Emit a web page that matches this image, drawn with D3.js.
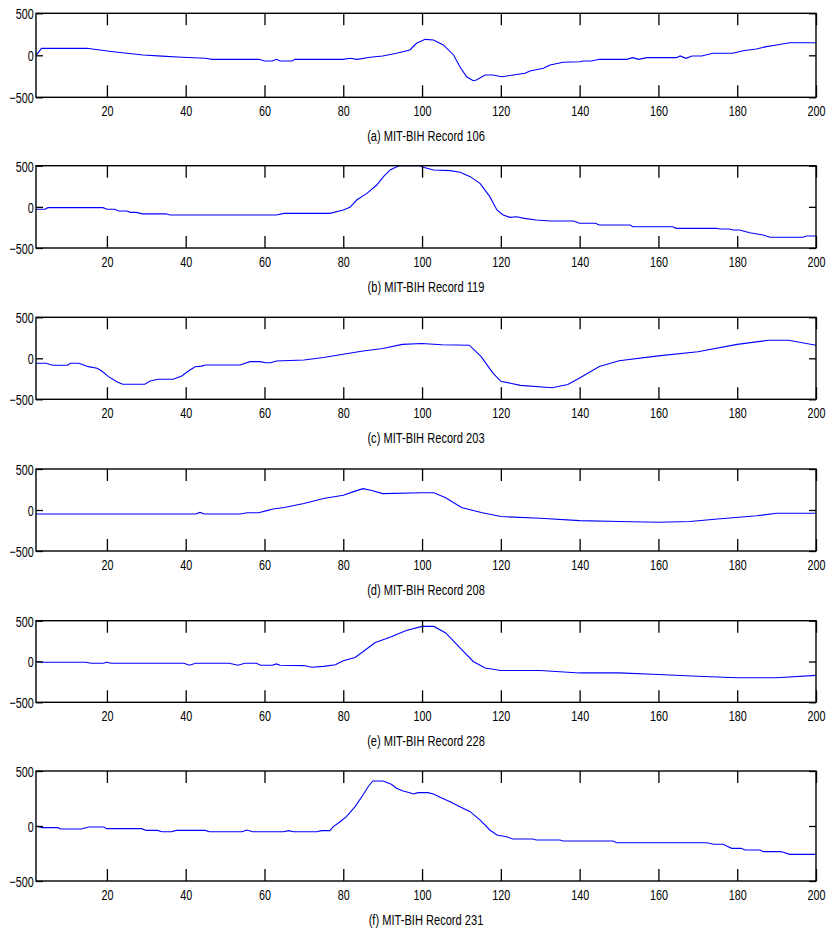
<!DOCTYPE html>
<html>
<head>
<meta charset="utf-8">
<script src="https://cdn.jsdelivr.net/npm/d3@7"></script>
<style>
  html, body { margin: 0; padding: 0; background: #fff; }
  svg { display: block; }
  text { font-family: "Liberation Sans", Arial, sans-serif; fill: #000; }
</style>
</head>
<body>
<svg id="chart" width="826" height="928"></svg>
<script>
// Sample index axis and amplitude axis shared by all six records
const xTicks = [20, 40, 60, 80, 100, 120, 140, 160, 180, 200];
const yTicks = [-500, 0, 500];

const titles = [
  "(a) MIT-BIH Record 106",
  "(b) MIT-BIH Record 119",
  "(c) MIT-BIH Record 203",
  "(d) MIT-BIH Record 208",
  "(e) MIT-BIH Record 228",
  "(f) MIT-BIH Record 231"
];

// Averaged beat waveforms: [sample index, amplitude]
const rec106 = [[2,0],[3.4,83],[14.9,83],[18.2,63],[21.6,43],[25,24],[29.2,4],[34,-10],[39,-24],[45,-36],[46.7,-48],[58.6,-48],[60,-68],[62,-68],[63,-48],[64,-68],[67,-68],[67.7,-48],[80,-48],[81.7,-36],[83.5,-48],[86.8,-24],[90,-8],[93.5,24],[96.9,63],[98.6,143],[100.8,190],[102.9,182],[105.4,123],[108,4],[109.6,-136],[111.3,-255],[113,-302],[113.8,-294],[116,-235],[118,-235],[120.2,-255],[123.2,-235],[126.1,-214],[127.4,-187],[130.8,-155],[132.5,-115],[135.8,-83],[140,-76],[141,-68],[143,-68],[145,-48],[151.9,-48],[153.5,-28],[155,-48],[157,-28],[164.6,-28],[165.5,-8],[167,-36],[168.5,-8],[171,-8],[173.8,24],[178.9,24],[181.5,55],[184.8,75],[187.4,103],[190,123],[193.3,150],[200,150]];

const rec119 = [[2,-30],[4.3,-30],[5,-10],[19,-10],[20,-30],[22,-30],[23,-51],[25,-51],[26,-67],[27.5,-67],[29,-85],[35,-85],[36,-99],[63,-99],[65,-79],[76.6,-79],[80,-38],[81.7,-6],[83.4,83],[86,164],[88.5,265],[90.2,367],[91.9,448],[93.6,488],[94.4,500],[99.5,500],[100.3,480],[102.9,448],[107.1,440],[109.7,420],[112.2,367],[114.7,286],[117.2,124],[119,-38],[120.6,-99],[122.3,-128],[124,-120],[126,-140],[129,-160],[132.5,-172],[138.4,-172],[140,-200],[144,-200],[145,-221],[152.8,-221],[153.5,-241],[163.6,-241],[164.6,-261],[174.7,-261],[175.6,-270],[178,-270],[178.9,-282],[180.6,-282],[183.2,-314],[186.6,-342],[188.3,-370],[196.7,-370],[197.6,-354],[200,-354]];

const rec203 = [[2,-61],[4.5,-61],[6.3,-85],[10,-85],[10.7,-61],[12.9,-61],[15.3,-102],[17.5,-122],[18.7,-155],[20.4,-224],[22.5,-285],[24,-317],[29.6,-317],[31,-277],[33,-256],[36.8,-256],[39,-216],[40.7,-155],[42.4,-102],[44,-95],[45,-82],[53.8,-82],[56.3,-41],[58.9,-41],[60.3,-54],[61.6,-54],[63,-33],[70,-20],[75,10],[80,50],[85,90],[90,120],[95,170],[100,180],[105,165],[112,160],[115,20],[118,-180],[120,-280],[125,-330],[133,-360],[137,-320],[140,-240],[145,-100],[150,-30],[160,30],[170,80],[180,170],[188,220],[193,220],[200,160]];

const rec208 = [[2,-49],[42.5,-49],[43.6,-29],[44.8,-49],[53.8,-49],[55.6,-33],[58.5,-33],[60.6,-8],[62.2,12],[65,30],[70,80],[75,140],[80,180],[83,230],[85,260],[87,240],[90,200],[100,210],[103,210],[106,150],[110,30],[115,-30],[120,-80],[130,-100],[140,-130],[150,-140],[160,-150],[168,-140],[175,-110],[185,-70],[190,-40],[200,-40]];

const rec228 = [[2,0],[3.5,-10],[14.6,-10],[16,-22],[19,-22],[20,-10],[21,-22],[39.5,-22],[41,-46],[42.5,-22],[51,-22],[53.3,-46],[55,-22],[58,-22],[59,-46],[62,-46],[63,-30],[64,-46],[70,-50],[72,-70],[75,-60],[78,-40],[80,10],[83,50],[85,120],[88,230],[92,300],[96,380],[100,430],[103,430],[106,350],[110,150],[113,0],[116,-80],[120,-110],[130,-110],[140,-140],[150,-140],[160,-160],[170,-180],[180,-200],[190,-200],[200,-170]];

const rec231 = [[2,0],[3.5,-15],[7.6,-15],[8.2,-27],[13.5,-27],[15.4,-9],[19.2,-9],[19.9,-24],[28.8,-24],[30,-40],[32.8,-40],[34,-52],[36.4,-52],[37.6,-40],[45,-40],[46,-52],[54.3,-52],[55.5,-36],[57,-52],[64.8,-52],[66.1,-42],[67.4,-52],[73.3,-52],[74.5,-42],[76.6,-42],[77.5,-5],[79.2,39],[80.8,85],[83,176],[85,282],[86.3,357],[87.5,409],[90.1,409],[92.2,379],[93.5,343],[95.2,318],[96.9,303],[97.7,291],[99,303],[101.5,303],[102.9,291],[104.6,261],[107.1,221],[109.6,176],[112.2,130],[114.7,55],[117.2,-36],[119,-82],[121.4,-97],[123,-118],[128.1,-118],[129,-127],[135,-127],[135.8,-136],[148.5,-136],[149.4,-152],[172.3,-152],[174,-166],[176.5,-166],[177.3,-182],[178.6,-203],[181,-203],[182,-218],[185.8,-218],[186.6,-233],[190.9,-233],[191.7,-239],[193.3,-258],[200,-258]];

const records = [rec106, rec119, rec203, rec208, rec228, rec231];

// Panel frames (top / bottom of each plot box)
const frames = [[13.3, 97.3], [165.7, 248], [317.3, 399.3], [469, 551], [620.7, 702.3], [771, 881]];
const left = 36, right = 816;
const fontSize = 15, squeeze = 0.72;

const svg = d3.select("#chart");
const x = d3.scaleLinear().domain([2, 200]).range([left, right]);

records.forEach((data, i) => {
  const [top, bottom] = frames[i];
  const y = d3.scaleLinear().domain([-500, 500]).range([bottom, top]);
  const g = svg.append("g");

  // waveform
  g.append("path")
    .datum(data)
    .attr("fill", "none")
    .attr("stroke", "#0000ff")
    .attr("stroke-width", 1.1)
    .attr("d", d3.line().x(d => x(d[0])).y(d => y(d[1])));

  // bottom axis with labels, ticks pointing inward
  const ax = g.append("g").attr("transform", `translate(0,${bottom})`)
    .call(d3.axisBottom(x).tickValues(xTicks).tickSizeInner(-12).tickSizeOuter(0).tickPadding(8));
  // top axis, ticks only
  g.append("g").attr("transform", `translate(0,${top})`)
    .call(d3.axisTop(x).tickValues(xTicks).tickSizeInner(-12).tickSizeOuter(0).tickFormat(""));
  // left axis with labels
  const ay = g.append("g").attr("transform", `translate(${left},0)`)
    .call(d3.axisLeft(y).tickValues(yTicks).tickSizeInner(-7).tickSizeOuter(0).tickPadding(3));
  // right axis, ticks only
  g.append("g").attr("transform", `translate(${right},0)`)
    .call(d3.axisRight(y).tickValues(yTicks).tickSizeInner(-7).tickSizeOuter(0).tickFormat(""));

  g.selectAll(".domain").remove();
  g.selectAll(".tick line").attr("stroke", "#000").attr("stroke-width", 1.3);
  g.selectAll(".tick text")
    .attr("font-size", fontSize)
    .attr("font-family", "'Liberation Sans', Arial, sans-serif")
    .attr("fill", "#000");
  ax.selectAll(".tick text").attr("transform", `scale(${squeeze},1)`);
  ay.selectAll(".tick text").attr("transform", `scale(${squeeze},1)`).attr("dy", "0.36em");

  // plot box
  g.append("rect")
    .attr("x", left).attr("y", top)
    .attr("width", right - left).attr("height", bottom - top)
    .attr("fill", "none").attr("stroke", "#000").attr("stroke-width", 1.4);

  // caption under the axis
  g.append("text")
    .attr("transform", `translate(${(left + right) / 2},${bottom + 44}) scale(${squeeze + 0.02},1)`)
    .attr("text-anchor", "middle")
    .attr("font-size", fontSize)
    .text(titles[i]);
});
</script>
</body>
</html>
